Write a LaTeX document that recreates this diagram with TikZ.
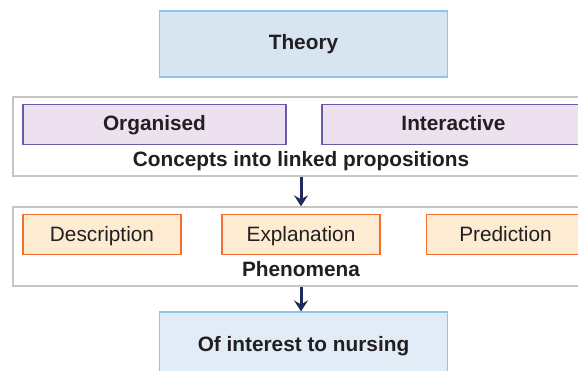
\documentclass[tikz,border=0pt]{standalone}
\usepackage{fontspec}
\setmainfont{Liberation Sans}
\usetikzlibrary{arrows.meta}
\definecolor{txt}{HTML}{231F20}
\definecolor{bluefill}{HTML}{D7E5F1}
\definecolor{bluefilltwo}{HTML}{E1ECF7}
\definecolor{blueline}{HTML}{8CC6EE}
\definecolor{purplefill}{HTML}{EDE1F0}
\definecolor{purpleline}{HTML}{6A58A8}
\definecolor{orangefill}{HTML}{FDEBD2}
\definecolor{orangeline}{HTML}{F36F2F}
\definecolor{grayline}{HTML}{C8C5C0}
\definecolor{navy}{HTML}{1E2A5C}
\tikzset{
  bigbox/.style={draw=blueline, line width=1.2pt, inner sep=0pt, minimum width=288pt, minimum height=66pt},
  outerbox/.style={draw=grayline, line width=1.4pt, fill=white, inner sep=0pt, minimum width=576pt, minimum height=79pt},
  purplebox/.style={draw=purpleline, fill=purplefill, line width=1.1pt, inner sep=0pt, minimum width=263pt, minimum height=39.5pt},
  orangebox/.style={draw=orangeline, fill=orangefill, line width=1.1pt, inner sep=0pt, minimum width=158pt, minimum height=39.5pt},
  lbl/.style={text=txt, inner sep=0pt, anchor=base, font=\fontsize{20.8}{24}\selectfont},
  blbl/.style={lbl, font=\fontsize{20.8}{24}\selectfont\bfseries},
  arr/.style={draw=navy, line width=3pt, -{Stealth[length=11pt,width=14pt,inset=4pt]}}
}
\begin{document}
\begin{tikzpicture}[x=1pt,y=-1pt]
\useasboundingbox (0,0) rectangle (578,371);
% Theory
\node[bigbox, fill=bluefill] (theory) at (303.5,44) {};
\node[blbl] (theorytxt) at (303.5,50) {Theory};
% outer box 1
\node[outerbox] (outerone) at (301,136.5) {};
\node[purplebox] (organised) at (154.5,124.5) {};
\node[blbl] (organisedtxt) at (154.5,131) {Organised};
\node[purplebox] (interactive) at (453.5,124.5) {};
\node[blbl] (interactivetxt) at (453.5,131) {Interactive};
\node[blbl] (concepts) at (301,166.5) {Concepts into linked propositions};
% outer box 2
\node[outerbox] (outertwo) at (301,246.5) {};
\node[orangebox] (description) at (102,234.5) {};
\node[lbl] (descriptiontxt) at (102,241.5) {Description};
\node[orangebox] (explanation) at (301,234.5) {};
\node[lbl] (explanationtxt) at (301,241.5) {Explanation};
\node[orangebox] (prediction) at (505.5,234.5) {};
\node[lbl] (predictiontxt) at (505.5,241.5) {Prediction};
\node[blbl] (phenomena) at (301,276.5) {Phenomena};
% bottom box
\node[bigbox, fill=bluefilltwo] (nursing) at (303.5,345) {};
\node[blbl] (nursingtxt) at (303.5,351.5) {Of interest to nursing};
% arrows
\draw[arr] (outerone.south) -- (outertwo.north);
\draw[arr] (outertwo.south) -- (outertwo.south |- nursing.north);
\end{tikzpicture}
\end{document}
